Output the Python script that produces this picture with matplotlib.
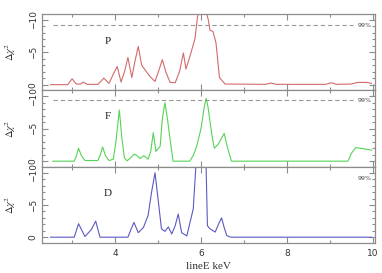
import matplotlib
matplotlib.use("Agg")
import matplotlib.pyplot as plt
from matplotlib.ticker import MultipleLocator, FixedLocator

plt.rcParams['mathtext.fontset'] = 'stix'

# Panel P
p_e = [2.5, 2.9, 3.0, 3.1, 3.2, 3.26, 3.35, 3.6, 3.74, 3.86, 3.95, 4.05, 4.14, 4.22, 4.3, 4.39,
       4.46, 4.54, 4.62, 4.72, 4.82, 4.93, 5.02, 5.1, 5.18, 5.28, 5.4, 5.5, 5.59, 5.65, 5.74,
       5.86, 5.92, 5.98, 6.08, 6.14, 6.17, 6.21, 6.28, 6.35, 6.43, 6.56, 7.5, 7.64, 7.75, 8.9,
       9.04, 9.15, 9.5, 9.65, 9.85, 9.97]
p_v = [0, 0, -0.9, -0.1, -0.1, -0.4, -0.05, -0.05, -1.0, -0.2, -1.5, -2.8, -0.4, -2.0, -4.2, -1.1,
       -3.5, -5.9, -3.0, -2.1, -1.2, -0.5, -2.2, -3.85, -2.0, -0.36, -0.3, -2.0, -4.9, -2.4, -4.3,
       -7.1, -10.5, -12, -12, -10.8, -10, -8.4, -8.2, -6.4, -1.1, -0.1, -0.05, -0.25, -0.05, -0.05,
       -0.3, -0.05, -0.1, -0.35, -0.35, -0.2]

# Panel F
f_e = [2.55, 3.05, 3.1, 3.15, 3.22, 3.3, 3.6, 3.66, 3.71, 3.78, 3.86, 3.96, 4.02, 4.1, 4.16, 4.22,
       4.28, 4.36, 4.45, 4.52, 4.58, 4.67, 4.77, 4.83, 4.89, 4.95, 5.05, 5.1, 5.16, 5.22, 5.28,
       5.35, 5.74, 5.83, 5.9, 6.0, 6.08, 6.12, 6.16, 6.21, 6.26, 6.31, 6.4, 6.54, 6.62, 6.71,
       9.42, 9.5, 9.6, 9.8, 9.97]
f_v = [0, 0, -0.8, -2.0, -0.8, -0.1, -0.1, -1.0, -2.2, -0.8, -0.1, -0.3, -3.0, -7.9, -3.5, -0.5,
       -0.05, -0.5, -1.1, -0.8, -0.4, -0.85, -0.3, -1.5, -4.4, -1.5, -2.3, -6.5, -9.0, -6.5, -3.4,
       0, 0, -1.0, -2.3, -5.0, -8.5, -9.7, -8.5, -6.1, -3.8, -2.0, -2.6, -4.3, -2.0, 0,
       0, -1.2, -2.1, -1.9, -1.7]

# Panel D
d_e = [2.5, 3.05, 3.15, 3.3, 3.45, 3.55, 3.65, 4.3, 4.37, 4.44, 4.54, 4.66, 4.77, 4.85, 4.93, 5.0,
       5.08, 5.16, 5.24, 5.32, 5.4, 5.47, 5.55, 5.67, 5.82, 5.88, 5.95, 6.08, 6.12, 6.15, 6.21,
       6.33, 6.42, 6.48, 6.54, 6.6, 6.7, 9.97]
d_v = [0, 0, -2.1, -0.1, -1.2, -2.5, 0, 0, -1.2, -2.3, -0.7, -1.5, -3.4, -7.0, -10.0, -6.0,
       -1.3, -0.9, -1.6, -0.5, -1.8, -3.6, -0.7, -0.2, -4.4, -10.9, -12, -12, -10.7, -1.8, -1.3,
       -0.8, -2.2, -3.0, -1.5, -0.25, 0, 0]

labels = ['P', 'F', 'D']
colors = ['#d46a6a', '#55d455', '#5a5ac4']
levels99 = [-9.2, -9.4, None]
xticks = [4, 6, 8, 10]
yticks = [0, -5, -10]

fig = plt.figure(figsize=(3.82, 2.73), dpi=100)
W, H = 382, 273
left, right = 42 / W, 375 / W
tops = [14, 90.5, 167]
bots = [90.5, 167, 243]
frame_c = '#8c8c8c'
series = [(p_e, p_v), (f_e, f_v), (d_e, d_v)]
label_y = [0.636, 0.66, 0.645]
for i in range(3):
    ax = fig.add_axes([left, 1 - bots[i] / H, right - left, (bots[i] - tops[i]) / H])
    e, v = series[i]
    ax.plot(e, v, color=colors[i], lw=0.8)
    ax.set_xlim(2.3, 10.05)
    ax.set_ylim(0.9, -10.9)
    if levels99[i] is not None:
        ax.plot([2.56, 9.53], [levels99[i]] * 2, color='#999999', lw=0.8, ls=(0, (4, 2.5)))
        ax.text(9.98, levels99[i], '99%', fontsize=4.5, color='#444444', ha='right', va='center')
    else:
        ax.text(9.98, -9.1, '99%', fontsize=4.5, color='#444444', ha='right', va='center')
    ax.text(0.198, label_y[i], labels[i], transform=ax.transAxes, fontsize=8,
            family='Liberation Serif', ha='center', va='center', color='#222222')
    for s in ax.spines.values():
        s.set_color(frame_c)
        s.set_linewidth(0.9)
    ax.xaxis.set_major_locator(FixedLocator(xticks))
    ax.xaxis.set_minor_locator(FixedLocator([3, 5, 7, 9]))
    ax.yaxis.set_major_locator(FixedLocator(yticks))
    ax.yaxis.set_minor_locator(MultipleLocator(1))
    ax.tick_params(which='both', direction='in', top=True, right=True, color=frame_c,
                   width=0.8, labelsize=6.5, labelcolor='#333333')
    ax.tick_params(which='major', length=4.5)
    ax.tick_params(which='minor', length=2.5)
    ax.tick_params(axis='y', pad=3)
    for t in ax.get_yticklabels():
        t.set_rotation(90)
        t.set_va('center')
    ax.set_ylabel(r'$\Delta\chi^2$', fontsize=7.5, color='#333333')
    ax.yaxis.set_label_coords(-0.072, 0.5)
    if i < 2:
        ax.tick_params(axis='x', labelbottom=False)
    else:
        ax.tick_params(axis='x', pad=4)
        ax.set_xlabel('lineE keV', fontsize=8, family='Liberation Serif', labelpad=3, color='#333333')

fig.savefig('out.png', dpi=100)
